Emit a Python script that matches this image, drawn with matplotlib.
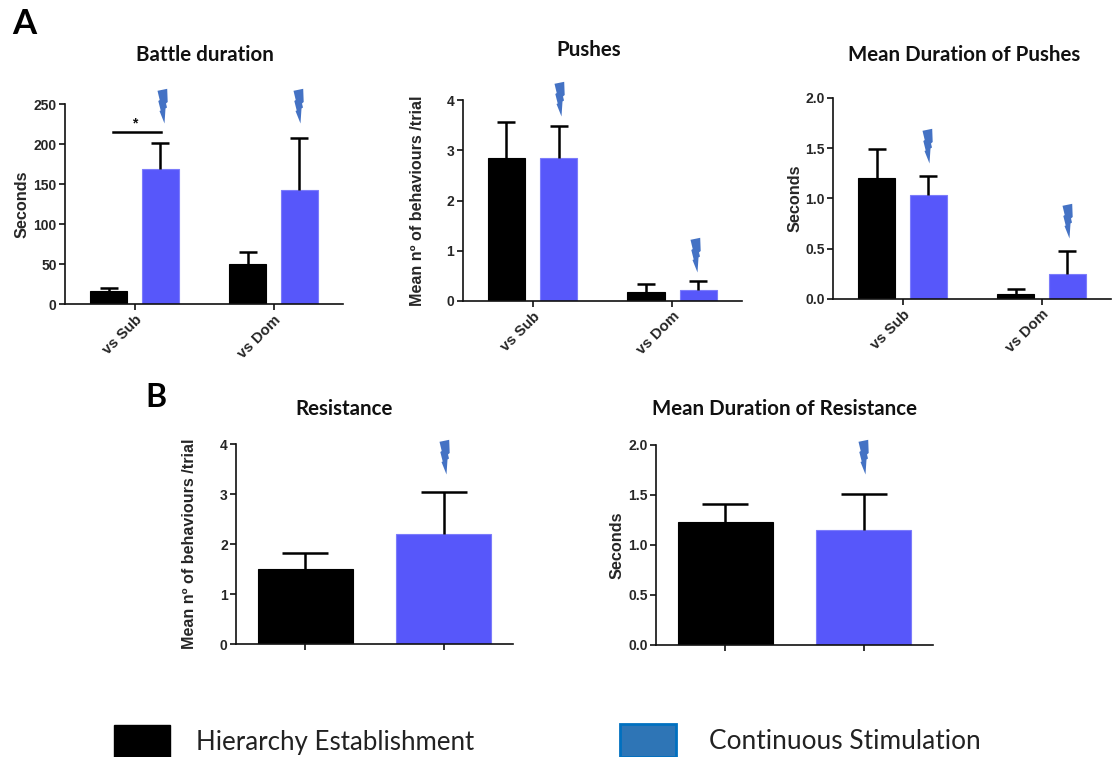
import matplotlib
matplotlib.use("Agg")
import matplotlib.pyplot as plt
from matplotlib.patches import Patch
from matplotlib.path import Path
from matplotlib.transforms import ScaledTranslation

W, H = 1119, 757
BLACK = "#000000"
BLUE = "#5757FA"
BOLT = "#4472C4"

groups = ["vs Sub", "vs Dom"]
series_names = ["Hierarchy Establishment", "Continuous Stimulation"]

battle_black = [17, 50]
battle_black_top = [20, 65]
battle_blue = [169, 143]
battle_blue_top = [202, 208]
battle_bolts = [(0.209, 227), (1.194, 227)]

pushes_black = [2.84, 0.18]
pushes_black_top = [3.57, 0.33]
pushes_blue = [2.84, 0.22]
pushes_blue_top = [3.48, 0.39]
pushes_bolts = [(0.201, 3.68), (1.18, 0.58)]

durpush_black = [1.20, 0.05]
durpush_black_top = [1.49, 0.10]
durpush_blue = [1.03, 0.25]
durpush_blue_top = [1.22, 0.48]
durpush_bolts = [(0.194, 1.353), (1.2, 0.607)]

resist_values = [1.51, 2.21]
resist_tops = [1.83, 3.05]
resist_bolts = [(1.014, 3.4)]

durres_values = [1.23, 1.15]
durres_tops = [1.41, 1.51]
durres_bolts = [(1.007, 1.71)]

BOLT_PATH = Path(
    [(2.7, 34.7), (-7, 32.7), (-4.8, 23.5), (-6.2, 22.5), (-3.8, 13), (-5, 12.5),
     (0, 0), (1, 15), (2.5, 16), (1.5, 20), (3.2, 21.5), (2.7, 34.7)],
    closed=True,
)
BOLT_MS = 2 * 34.7 * 0.72

TICK_FONT = dict(family="Liberation Sans", fontweight="bold", color="#262626")
TITLE_FONT = dict(family="Lato", fontweight="bold", color="#111111")

fig = plt.figure(figsize=(W / 100, H / 100), dpi=100, facecolor="white")
label_shift = ScaledTranslation(-6 / 100, -3 / 100, fig.dpi_scale_trans)


def make_axes(left, right, top, bottom):
    return fig.add_axes([left / W, 1 - bottom / H, (right - left) / W, (bottom - top) / H])


def style(ax, ymax, yticks, yfmt, ylabel, label_x, label_size, xticks, xticklabels):
    ax.set_xlim(-0.5, 1.5)
    ax.set_ylim(0, ymax)
    ax.patch.set_alpha(0)
    for side in ("top", "right"):
        ax.spines[side].set_visible(False)
    for side in ("left", "bottom"):
        ax.spines[side].set_linewidth(1.2)
        ax.spines[side].set_color("#111111")
    ax.set_yticks(yticks)
    ax.set_yticklabels([yfmt.format(v) for v in yticks], fontsize=10, **TICK_FONT)
    ax.set_xticks(xticks)
    ax.set_xticklabels(xticklabels, rotation=45, ha="right", va="top",
                       rotation_mode="anchor", fontsize=10.8, **TICK_FONT)
    for lab in ax.get_xticklabels():
        lab.set_transform(lab.get_transform() + label_shift)
    ax.tick_params(axis="both", length=4, width=1.2, color="#111111", pad=2)
    ax.set_ylabel(ylabel, fontsize=label_size, **TICK_FONT)
    ax.yaxis.set_label_coords(label_x, 0.5)


def bars(ax, xs, vals, tops, color, width, cap):
    edge = "#000000" if color == BLACK else "#7C7CFB"
    ax.bar(xs, vals, width=width, color=color, edgecolor=edge, linewidth=0.8, zorder=2)
    ax.vlines(xs, vals, tops, color="black", lw=1.8, zorder=3)
    ax.plot(xs, tops, linestyle="none", marker="_", ms=2 * cap, mew=1.8, color="black", zorder=3)


def bolts(ax, pts):
    for x, y in pts:
        ax.plot([x], [y], marker=BOLT_PATH, ms=BOLT_MS, color=BOLT, mew=0, clip_on=False,
                linestyle="none", zorder=4)


def grouped(rect, a, a_top, b, b_top, pts, ymax, yticks, yfmt, ylabel, label_x, label_size):
    ax = make_axes(*rect)
    off, w = 0.187, 0.266
    bars(ax, [i - off for i in range(2)], a, a_top, BLACK, w, 6.2)
    bars(ax, [i + off for i in range(2)], b, b_top, BLUE, w, 6.2)
    style(ax, ymax, yticks, yfmt, ylabel, label_x, label_size, [0, 1], groups)
    bolts(ax, pts)
    return ax


def single(rect, vals, tops, pts, ymax, yticks, yfmt, ylabel, label_x, label_size):
    ax = make_axes(*rect)
    w = 0.683
    bars(ax, [0], vals[:1], tops[:1], BLACK, w, 16.5)
    bars(ax, [1], vals[1:], tops[1:], BLUE, w, 16.5)
    style(ax, ymax, yticks, yfmt, ylabel, label_x, label_size, [0, 1], ["", ""])
    bolts(ax, pts)
    return ax


TRIAL = "Mean nº of behaviours /trial"
SEC_SIZE, TRIAL_SIZE = 11.7, 11.6
ax1 = grouped((65, 343, 104.3, 304.3), battle_black, battle_black_top, battle_blue, battle_blue_top,
              battle_bolts, 250, [0, 50, 100, 150, 200, 250], "{:d}", "Seconds", -0.127, SEC_SIZE)
ax1.plot([-0.158, 0.194], [215, 215], color="black", lw=1.8, zorder=3, clip_on=False)
ax1.text(0.0, 226, "*", ha="center", va="center", fontsize=10, fontweight="bold",
         family="Liberation Sans", color="#111111")

grouped((462.7, 742, 100, 301), pushes_black, pushes_black_top, pushes_blue, pushes_blue_top,
        pushes_bolts, 4, [0, 1, 2, 3, 4], "{:d}", TRIAL, -0.135, TRIAL_SIZE)
grouped((833, 1111, 98, 299), durpush_black, durpush_black_top, durpush_blue, durpush_blue_top,
        durpush_bolts, 2.0, [0.0, 0.5, 1.0, 1.5, 2.0], "{:.1f}", "Seconds", -0.109, SEC_SIZE)
single((236, 513, 444, 644), resist_values, resist_tops, resist_bolts,
       4, [0, 1, 2, 3, 4], "{:d}", TRIAL, -0.14, TRIAL_SIZE)
single((656, 933, 445, 645), durres_values, durres_tops, durres_bolts,
       2.0, [0.0, 0.5, 1.0, 1.5, 2.0], "{:.1f}", "Seconds", -0.113, SEC_SIZE)


def ftext(x, y, s, **kw):
    fig.text(x / W, 1 - y / H, s, **kw)


for x, y, s in [(205, 61, "Battle duration"), (589, 56, "Pushes"),
                (964, 61, "Mean Duration of Pushes"), (344, 415, "Resistance"),
                (785, 415, "Mean Duration of Resistance")]:
    ftext(x, y, s, ha="center", va="baseline", fontsize=14.8, **TITLE_FONT)

ftext(12, 34, "A", ha="left", va="baseline", fontsize=25, family="Lato", fontweight="bold", color="black")
ftext(145, 407, "B", ha="left", va="baseline", fontsize=23, family="Lato", fontweight="bold", color="black")


def legend_entry(handle, left_px, top_px, gap_px, fs_px):
    leg = fig.legend(handles=[handle], loc="upper left", bbox_to_anchor=(left_px / W, 1 - top_px / H),
                     frameon=False, prop={"family": "Lato", "size": fs_px * 0.72},
                     handlelength=56 / fs_px, handleheight=(31 + 0.35 * fs_px) / fs_px,
                     handletextpad=gap_px / fs_px, borderpad=0, borderaxespad=0, labelcolor="#222222")
    return leg


legend_entry(Patch(facecolor=BLACK, edgecolor=BLACK, label=series_names[0]), 114, 725, 26, 25.9)
legend_entry(Patch(facecolor="#2E75B6", edgecolor="#0070C0", linewidth=2, label=series_names[1]), 620, 724, 33, 26.3)

fig.savefig("out.png", dpi=100)
